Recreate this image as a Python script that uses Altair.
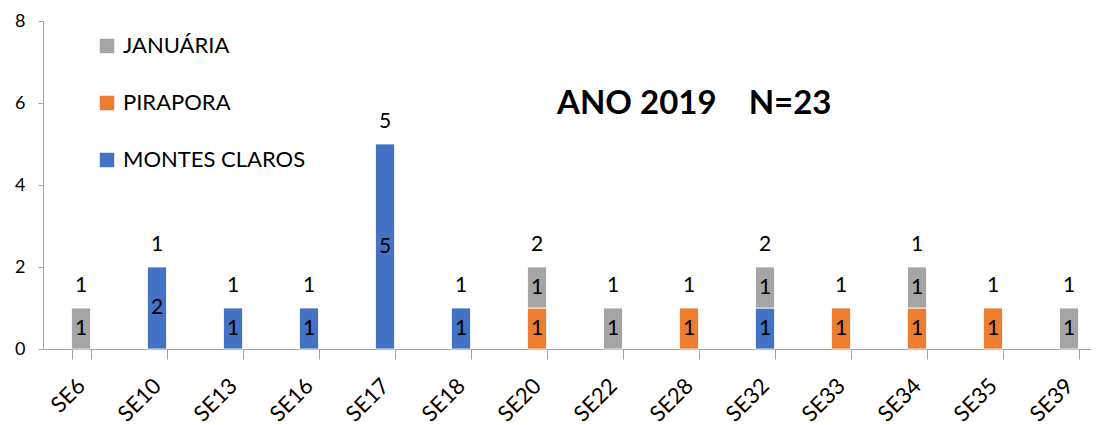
import altair as alt
import pandas as pd

weeks = ["SE6", "SE10", "SE13", "SE16", "SE17", "SE18", "SE20",
         "SE22", "SE28", "SE32", "SE33", "SE34", "SE35", "SE39"]
montes_claros = [0, 2, 1, 1, 5, 1, 0, 0, 0, 1, 0, 0, 0, 0]
pirapora = [0, 0, 0, 0, 0, 0, 1, 0, 1, 0, 1, 1, 1, 0]
januaria = [1, 0, 0, 0, 0, 0, 1, 1, 0, 1, 0, 1, 0, 1]
top_labels = [1, 1, 1, 1, 5, 1, 2, 1, 1, 2, 1, 1, 1, 1]

series = ["MONTES CLAROS", "PIRAPORA", "JANUÁRIA"]
series_colors = {"MONTES CLAROS": "#4472C4", "PIRAPORA": "#ED7D31", "JANUÁRIA": "#A5A5A5"}
legend_order = ["JANUÁRIA", "PIRAPORA", "MONTES CLAROS"]

rows = []
totals = []
for i, w in enumerate(weeks):
    base = 0
    for k, (name, vals) in enumerate(zip(series, [montes_claros, pirapora, januaria])):
        v = vals[i]
        if v > 0:
            rows.append(dict(week=w, serie=name, value=v, order=k,
                             y0=base, y1=base + v, mid=base + v / 2))
        base += v
    totals.append(base)
df = pd.DataFrame(rows)
tot = pd.DataFrame(dict(week=weeks, total=totals, label=top_labels))

FONT = "Lato"

xscale = alt.Scale(domain=weeks, paddingInner=0.75, paddingOuter=0.375, range=[0, 1064])
yscale = alt.Scale(domain=[0, 8])

x_enc = alt.X("week:N", sort=weeks, scale=xscale, title=None,
              axis=alt.Axis(labelAngle=-45, labelFontSize=22, labelFont=FONT,
                            labelColor="black", labelAlign="right", labelBaseline="middle",
                            labelPadding=23, tickBand="extent", tickSize=10,
                            domainColor="#A6A6A6", tickColor="#A6A6A6", grid=False))

bars = alt.Chart(df).mark_bar(stroke="white", strokeWidth=0.8).encode(
    x=x_enc,
    y=alt.Y("y1:Q", scale=yscale, title=None,
            axis=alt.Axis(values=[0, 2, 4, 6, 8], grid=False, labelFontSize=18,
                          labelFont=FONT, labelColor="black", tickSize=5, labelPadding=13,
                          domainColor="#A6A6A6", tickColor="#A6A6A6")),
    y2="y0:Q",
    color=alt.Color("serie:N", scale=alt.Scale(domain=legend_order,
                                               range=[series_colors[s] for s in legend_order]),
                    legend=alt.Legend(title=None, orient="none", legendX=53, legendY=14,
                                      symbolType="square", symbolSize=210,
                                      symbolStrokeWidth=0, labelFontSize=22, labelFont=FONT,
                                      labelColor="black", labelOffset=5, rowPadding=35,
                                      padding=0, labelLimit=400)),
)

inner = alt.Chart(df).mark_text(fontSize=21, font=FONT, color="black", baseline="middle").encode(
    x=alt.X("week:N", sort=weeks, scale=xscale),
    y=alt.Y("mid:Q", scale=yscale),
    text="value:Q",
)

top = alt.Chart(tot).mark_text(fontSize=21, font=FONT, color="black",
                               baseline="alphabetic", dy=-16).encode(
    x=alt.X("week:N", sort=weeks, scale=xscale),
    y=alt.Y("total:Q", scale=yscale),
    text="label:Q",
)

chart = alt.layer(bars, inner, top).properties(
    width=1048, height=328,
    autosize=alt.AutoSizeParams(type="none"),
    padding={"left": 35, "top": 13, "right": 0, "bottom": 76},
    title=alt.TitleParams(text="ANO 2019\u00a0\u00a0\u00a0\u00a0N=23", anchor="start",
                          frame="group", orient="top", dx=514, dy=135, offset=0,
                          baseline="alphabetic", fontSize=33, font=FONT,
                          fontWeight="bold", color="black"),
).configure_view(stroke=None)

chart.save("out.html", embed_options={"renderer": "svg", "actions": False})
